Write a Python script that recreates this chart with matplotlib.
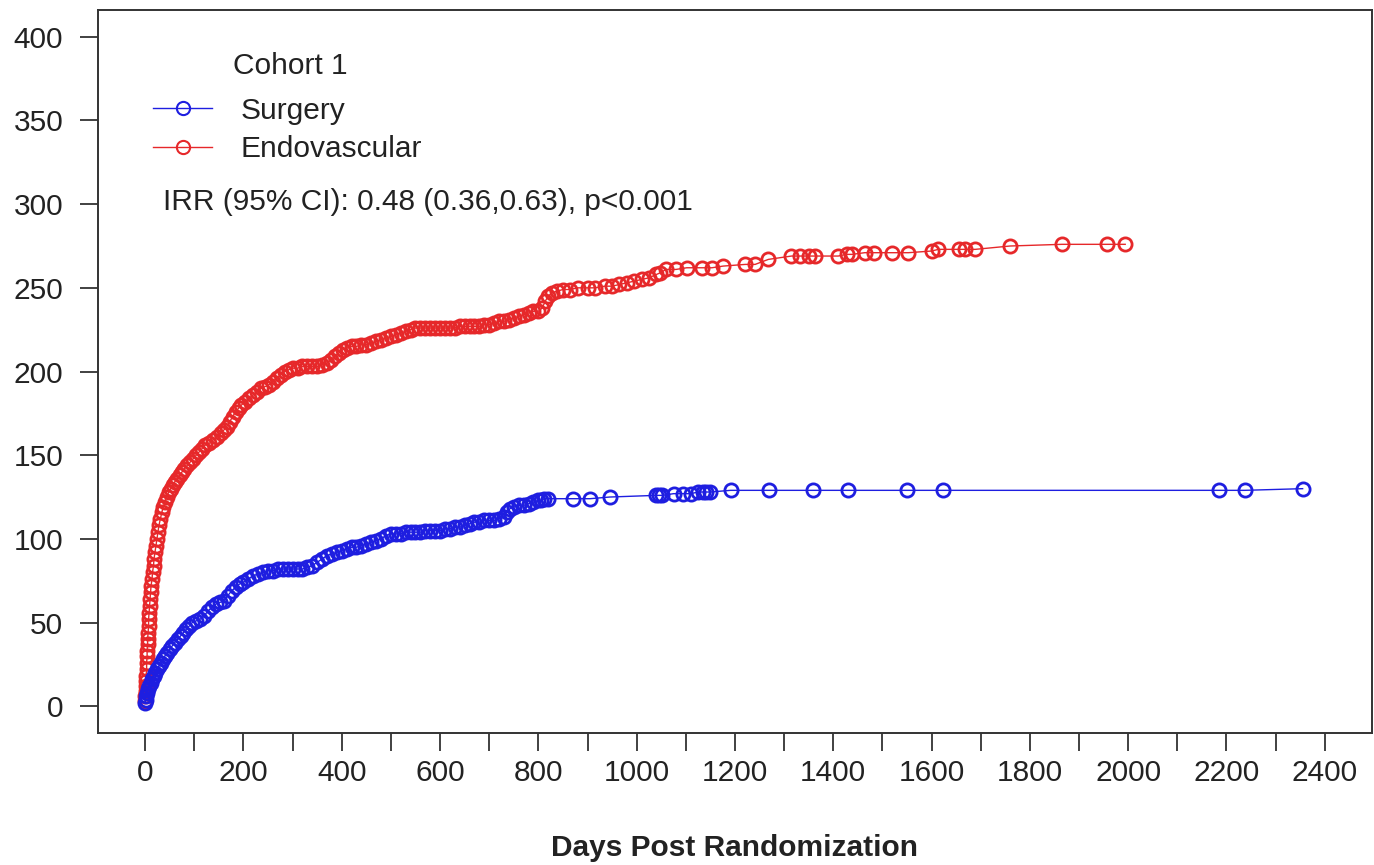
import numpy as np
import matplotlib
matplotlib.use('Agg')
import matplotlib.pyplot as plt

plt.rcParams['font.family'] = ['Liberation Sans', 'DejaVu Sans']

# cumulative events
endo_days = [0, 0, 1, 1, 2, 2, 3, 3, 4, 4,
             5, 5, 6, 7, 7, 8, 9, 10, 11, 12,
             14, 15, 17, 18, 20, 22, 24, 26, 28, 31,
             34, 37, 40, 44, 48, 52, 56, 60, 65, 70,
             75, 80, 86, 92, 98, 104, 110, 116, 122, 130,
             138, 146, 154, 160, 166, 172, 178, 184, 190, 196,
             204, 212, 220, 228, 236, 244, 252, 260, 268, 276,
             284, 292, 300, 310, 320, 330, 340, 350, 360, 370,
             378, 386, 394, 402, 410, 420, 430, 440, 450, 460,
             470, 480, 490, 500, 510, 520, 530, 540, 550, 560,
             570, 580, 590, 600, 610, 620, 630, 640, 650, 660,
             670, 680, 690, 700, 710, 720, 730, 740, 750, 760,
             770, 780, 790, 800, 808, 814, 820, 828, 838, 850,
             864, 880, 900, 915, 935, 950, 965, 980, 995, 1010,
             1025, 1040, 1048, 1060, 1080, 1102, 1132, 1153, 1176, 1221,
             1241, 1268, 1315, 1333, 1350, 1363, 1410, 1427, 1438, 1464,
             1482, 1519, 1553, 1600, 1614, 1655, 1668, 1689, 1760, 1865,
             1957, 1994]
endo_vals = [3, 6, 9, 12, 15, 18, 22, 26, 30, 33,
             37, 40, 44, 48, 52, 56, 60, 64, 68, 72,
             76, 80, 84, 88, 92, 96, 100, 104, 108, 112,
             116, 119, 122, 125, 128, 130, 132, 134, 136, 138,
             140, 142, 144, 146, 148, 150, 152, 154, 156, 157,
             159, 161, 163, 165, 167, 170, 173, 176, 178, 180,
             182, 184, 186, 188, 190, 191, 192, 194, 196, 198,
             200, 201, 202, 202, 203, 203, 203, 203, 204, 205,
             207, 209, 211, 213, 214, 215, 215, 216, 216, 217,
             218, 219, 220, 221, 222, 223, 224, 225, 226, 226,
             226, 226, 226, 226, 226, 226, 226, 227, 227, 227,
             227, 227, 228, 228, 229, 230, 230, 231, 232, 233,
             234, 235, 236, 236, 238, 242, 245, 247, 248, 249,
             249, 250, 250, 250, 251, 251, 252, 253, 254, 255,
             256, 258, 259, 261, 261, 262, 262, 262, 263, 264,
             264, 267, 269, 269, 269, 269, 269, 270, 270, 271,
             271, 271, 271, 272, 273, 273, 273, 273, 275, 276,
             276, 276]

surg_days = [0, 1, 2, 4, 6, 8, 11, 14, 17, 20,
             24, 28, 32, 36, 40, 45, 50, 55, 60, 66,
             72, 78, 84, 90, 96, 104, 112, 120, 128, 136,
             144, 152, 160, 168, 176, 184, 192, 200, 210, 220,
             230, 240, 250, 260, 270, 280, 290, 300, 310, 320,
             330, 340, 350, 360, 370, 380, 390, 400, 410, 420,
             430, 440, 450, 460, 470, 480, 490, 500, 510, 520,
             530, 540, 550, 560, 570, 580, 590, 600, 610, 620,
             630, 640, 650, 660, 670, 680, 690, 700, 710, 720,
             730, 736, 742, 750, 760, 770, 780, 790, 800, 806,
             812, 820, 870, 905, 945, 1040, 1046, 1052, 1075, 1095,
             1110, 1125, 1135, 1142, 1150, 1191, 1270, 1358, 1431, 1550,
             1624, 2184, 2237, 2355]
surg_vals = [2, 4, 6, 8, 10, 12, 14, 16, 18, 20,
             22, 24, 26, 28, 30, 32, 34, 36, 38, 40,
             42, 44, 46, 48, 50, 51, 52, 54, 57, 59,
             61, 62, 63, 66, 69, 71, 73, 74, 76, 78,
             79, 80, 81, 81, 82, 82, 82, 82, 82, 82,
             83, 84, 86, 88, 90, 91, 92, 93, 94, 95,
             95, 96, 97, 98, 99, 100, 102, 103, 103, 103,
             104, 104, 104, 104, 105, 105, 105, 105, 106, 106,
             107, 107, 108, 109, 110, 110, 111, 111, 111, 112,
             113, 116, 118, 119, 120, 120, 121, 122, 123, 123,
             124, 124, 124, 124, 125, 126, 126, 126, 127, 127,
             127, 128, 128, 128, 128, 129, 129, 129, 129, 129,
             129, 129, 129, 130]

x_major = list(range(0, 2401, 200))
x_minor = list(range(100, 2400, 200))
y_major = list(range(0, 401, 50))

blue = '#1e1ee0'
red = '#e6282a'
txt = '#222222'
fs = 21.5

fig = plt.figure(figsize=(13.74, 8.65), dpi=100)
ax = fig.add_axes([0.0713, 0.1526, 0.9272, 0.8358])

l_endo, = ax.plot(endo_days, endo_vals, color=red, lw=1.0, marker='o', ms=9.5,
                  mfc='none', mec=red, mew=2.0, label='Endovascular')
l_surg, = ax.plot(surg_days, surg_vals, color=blue, lw=1.0, marker='o', ms=9.5,
                  mfc='none', mec=blue, mew=2.0, label='Surgery')

ax.set_xlim(-96, 2496)
ax.set_ylim(-16, 416)
ax.set_xticks(x_major)
ax.set_xticks(x_minor, minor=True)
ax.set_yticks(y_major)
ax.tick_params(axis='both', which='both', direction='out', length=13,
               width=1.3, color='#333333', labelsize=fs, labelcolor=txt)
ax.tick_params(axis='x', which='both', pad=6)
ax.tick_params(axis='y', pad=12)
for s in ax.spines.values():
    s.set_color('#333333')
    s.set_linewidth(1.4)

ax.set_xlabel('Days Post Randomization', fontsize=fs, fontweight='bold', color=txt)
ax.xaxis.set_label_coords(0.5, -0.14)
ax.xaxis.label.set_va('top')

ax.text(0.106, 0.9225, 'Cohort 1', transform=ax.transAxes, fontsize=fs,
        color=txt, va='center', ha='left')
leg = ax.legend(handles=[l_surg, l_endo], loc='center left',
                bbox_to_anchor=(0.043, 0.834), frameon=False, fontsize=fs,
                handlelength=2.0, handletextpad=0.95, borderpad=0,
                borderaxespad=0, labelspacing=0.35, labelcolor=txt)
for h in leg.get_lines():
    h.set_markeredgewidth(1.5)

ax.text(0.051, 0.734, 'IRR (95% CI): 0.48 (0.36,0.63), p<0.001', transform=ax.transAxes,
        fontsize=fs, color=txt, va='center', ha='left')

fig.savefig('out.png', dpi=100)
